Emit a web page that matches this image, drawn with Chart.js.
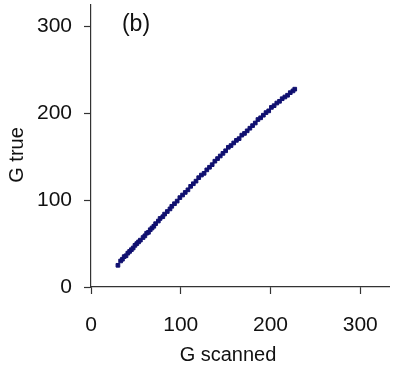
<!DOCTYPE html>
<html>
<head>
<meta charset="utf-8">
<script src="https://cdn.jsdelivr.net/npm/chart.js@4"></script>
<style>
  body { margin: 0; background: #fff; }
  #wrap { width: 394px; height: 368px; position: relative; }
</style>
</head>
<body>
<div id="wrap"><canvas id="chart"></canvas></div>
<script>
// G scanned (x) vs G true (y)
const gScanned = [30, 33, 35, 37, 39, 41, 43, 45, 47, 49, 51, 53, 55, 58, 60, 62, 64, 66, 68, 70,
  72, 75, 77, 80, 82, 85, 88, 90, 93, 96, 99, 102, 105, 108, 111, 114, 117, 120, 123, 126,
  129, 132, 135, 138, 141, 144, 147, 150, 153, 156, 159, 162, 165, 168, 171, 174, 177, 180, 183, 186,
  189, 192, 195, 198, 201, 204, 207, 210, 213, 216, 219, 222, 225, 227];
const gTrue = [25, 30, 32, 35, 36, 39, 41, 43, 45, 48, 50, 52, 54, 57, 59, 62, 63, 66, 68, 70,
  73, 76, 79, 81, 84, 87, 90, 93, 96, 99, 103, 106, 109, 112, 116, 119, 122, 126, 129, 131,
  135, 138, 141, 145, 148, 151, 154, 157, 161, 163, 166, 169, 171, 175, 177, 180, 183, 186, 189, 193,
  195, 198, 201, 203, 207, 209, 212, 214, 217, 219, 221, 224, 226, 228];
const tickValues = [0, 100, 200, 300];
const xTitle = "G scanned";
const yTitle = "G true";
const panelLabel = "(b)";

const points = gScanned.map((x, i) => ({ x: x, y: gTrue[i] }));

const textFont = "Liberation Sans, Arial, sans-serif";

const titlesPlugin = {
  id: "titles",
  afterDraw(chart) {
    const ctx = chart.ctx;
    ctx.save();
    ctx.fillStyle = "#111";
    ctx.textAlign = "center";
    ctx.textBaseline = "middle";
    ctx.font = "20px " + textFont;
    ctx.fillText(xTitle, 228, 355);
    ctx.font = "23px " + textFont;
    ctx.fillText(panelLabel, 136, 25);
    ctx.translate(17, 155);
    ctx.rotate(-Math.PI / 2);
    ctx.font = "20px " + textFont;
    ctx.fillText(yTitle, 0, 0);
    ctx.restore();
  }
};

new Chart(document.getElementById("chart"), {
  type: "scatter",
  data: {
    datasets: [{
      data: points,
      showLine: true,
      borderColor: "#111",
      borderWidth: 1.5,
      borderDash: [2, 2],
      pointStyle: "rect",
      pointRadius: 2.6,
      pointBackgroundColor: "#101070",
      pointBorderColor: "#101070",
      pointBorderWidth: 1
    }]
  },
  options: {
    responsive: true,
    maintainAspectRatio: false,
    animation: false,
    layout: { padding: { top: 4, right: 3, left: 0, bottom: 0 } },
    plugins: {
      legend: { display: false },
      tooltip: { enabled: false }
    },
    scales: {
      x: {
        type: "linear",
        min: 0,
        max: 332,
        afterFit(scale) {
          scale.height = 81;
          scale.paddingLeft = 0;
          scale.paddingRight = 0;
        },
        afterBuildTicks(scale) { scale.ticks = tickValues.map(v => ({ value: v })); },
        border: { color: "#333", width: 1.2 },
        grid: { drawOnChartArea: false, tickLength: 7, color: "#333", tickWidth: 1.2 },
        ticks: { color: "#111", padding: 19, maxRotation: 0, font: { size: 21, family: textFont } }
      },
      y: {
        type: "linear",
        min: 0,
        max: 325,
        afterFit(scale) {
          scale.width = 91;
          scale.paddingTop = 0;
          scale.paddingBottom = 0;
        },
        afterBuildTicks(scale) { scale.ticks = tickValues.map(v => ({ value: v })); },
        border: { color: "#333", width: 1.2 },
        grid: { drawOnChartArea: false, tickLength: 7, color: "#333", tickWidth: 1.2 },
        ticks: { color: "#111", padding: 12, font: { size: 21, family: textFont } }
      }
    }
  },
  plugins: [titlesPlugin]
});
</script>
</body>
</html>
